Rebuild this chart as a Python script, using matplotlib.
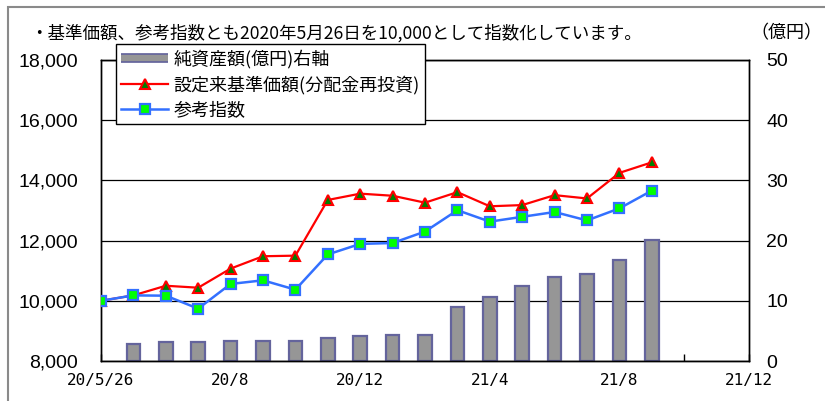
import matplotlib
matplotlib.use("Agg")
import matplotlib.pyplot as plt
from matplotlib.lines import Line2D
from matplotlib.patches import Rectangle
from matplotlib.legend_handler import HandlerTuple
import numpy as np

plt.rcParams['font.family'] = ['Noto Sans CJK JP', 'DejaVu Sans']

# ---- data ----
price_index = [10000, 10180, 10500, 10435, 11070, 11480, 11500, 13350, 13560,
               13490, 13260, 13610, 13140, 13180, 13510, 13400, 14250, 14600]
ref_index = [10000, 10180, 10170, 9740, 10560, 10680, 10370, 11540, 11890,
             11920, 12300, 13010, 12630, 12790, 12950, 12670, 13070, 13660]
net_assets = [2.9, 3.1, 3.1, 3.3, 3.4, 3.4, 3.9, 4.1, 4.3, 4.3,
              8.9, 10.6, 12.5, 14.0, 14.5, 16.8, 20.1]
bar_start = 1
x_labels = ["20/5/26", "20/8", "20/12", "21/4", "21/8", "21/12"]
x_label_pos = [0, 4, 8, 12, 16, 20]
left_ticks = [8000, 10000, 12000, 14000, 16000, 18000]
right_ticks = [0, 10, 20, 30, 40, 50]

title = "・基準価額、参考指数とも2020年5月26日を10,000として指数化しています。"
unit_label = "（億円）"
leg_labels = ["純資産額(億円)右軸", "設定来基準価額(分配金再投資)", "参考指数"]

# ---- figure ----
W, H = 825, 401
fig = plt.figure(figsize=(W / 100, H / 100), dpi=100)

# outer frame
fig.patches.append(Rectangle((8 / W, -0.1), 1.2, 1 - 7 / H + 0.1,
                             transform=fig.transFigure, fill=False,
                             edgecolor='#8a8a8a', lw=1.5))

left, right, bottom, top = 101 / W, 749 / W, 1 - 361 / H, 1 - 60 / H
ax2 = fig.add_axes([left, bottom, right - left, top - bottom])
ax = ax2.twinx()
ax.yaxis.tick_left()
ax2.yaxis.tick_right()

ax.set_zorder(ax2.get_zorder() + 1)
ax.patch.set_visible(False)

bar_fc, bar_ec = '#969696', '#64649c'
xb = np.arange(bar_start, bar_start + len(net_assets))
ax2.bar(xb, net_assets, width=0.42, color=bar_fc, edgecolor=bar_ec,
        linewidth=1.6, zorder=2)
ax2.set_ylim(0, 50)
ax2.set_yticks(right_ticks)
ax2.set_yticklabels([str(v) for v in right_ticks], family='Liberation Sans',
                    fontsize=14)
ax2.tick_params(axis='y', which='both', length=0, pad=12.5)
ax2.yaxis.grid(True, color='black', lw=0.9)
ax2.set_axisbelow(True)

xp = np.arange(len(price_index))
ax.plot(xp, price_index, color='#ff0000', lw=1.6, marker='^', markersize=7,
        markerfacecolor='#008000', markeredgecolor='#ff0000', markeredgewidth=1.5,
        zorder=4)
ax.plot(np.arange(len(ref_index)), ref_index, color='#3370ff', lw=1.8, marker='s',
        markersize=6.5, markerfacecolor='#00ff00', markeredgecolor='#3370ff',
        markeredgewidth=1.6, zorder=5)
ax.set_ylim(8000, 18000)
ax.set_yticks(left_ticks)
ax.set_yticklabels([f"{v:,}" for v in left_ticks], family='Liberation Sans',
                   fontsize=14)
ax.tick_params(axis='y', which='both', length=0, pad=16.5)

ax2.set_xlim(0, 20)
ax2.set_xticks(x_label_pos)
ax2.set_xticklabels(x_labels, family='DejaVu Sans Mono', fontsize=11.5)
ax2.set_xticks(np.arange(2, 20, 4), minor=True)
ax2.tick_params(axis='x', which='both', direction='in', length=5, width=1,
                pad=9, color='black')
ax.tick_params(axis='x', which='both', length=0)

for a in (ax, ax2):
    for s in a.spines.values():
        s.set_color('black')
        s.set_linewidth(1.0)

# texts
fig.text(30 / W, 1 - 33 / H, title, fontsize=12.6, va='center', ha='left',
         family=['Noto Sans CJK JP'])
fig.text(822 / W, 1 - 33 / H, unit_label, fontsize=13, va='center', ha='right',
         family=['Noto Sans CJK JP'])

# legend
h_bar = (Line2D([], [], color=bar_ec, lw=7, solid_capstyle='butt'),
         Line2D([], [], color=bar_fc, lw=4.5, solid_capstyle='butt'))
h_red = Line2D([], [], color='#ff0000', lw=1.6, marker='^', markersize=7,
               markerfacecolor='#008000', markeredgecolor='#ff0000',
               markeredgewidth=1.5)
h_blue = Line2D([], [], color='#3370ff', lw=1.8, marker='s', markersize=6.5,
                markerfacecolor='#00ff00', markeredgecolor='#3370ff',
                markeredgewidth=1.6)
leg = fig.legend([h_bar, h_red, h_blue], leg_labels,
                 handler_map={tuple: HandlerTuple(ndivide=1, pad=0)},
                 loc='upper left', bbox_to_anchor=(116 / W, 1 - 44 / H),
                 frameon=True, fancybox=False, framealpha=1, edgecolor='black',
                 fontsize=13, handlelength=2.6, handletextpad=0.3,
                 borderpad=0.3, labelspacing=0.38, borderaxespad=0)
leg.get_frame().set_linewidth(1.0)
leg.set_zorder(10)

fig.savefig("out.png", dpi=100)
